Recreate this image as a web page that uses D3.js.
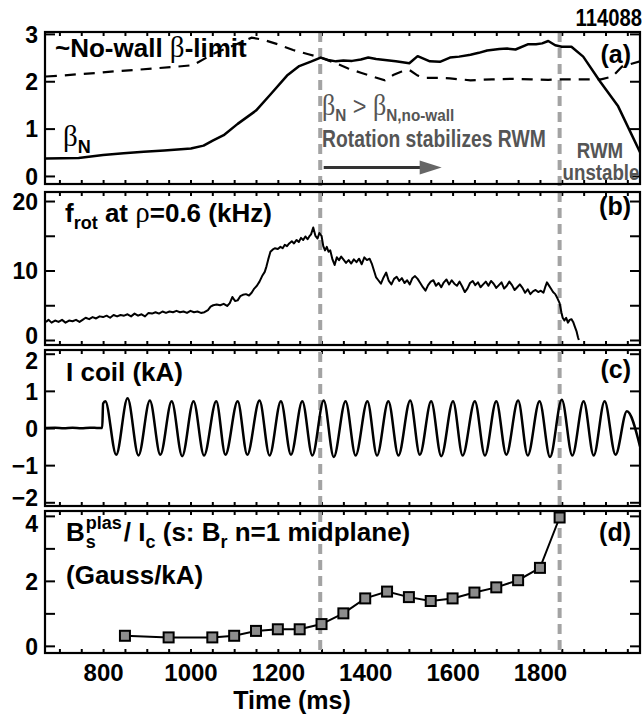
<!DOCTYPE html>
<html><head><meta charset="utf-8">
<script src="https://cdn.jsdelivr.net/npm/d3@7"></script>
<style>
html,body{margin:0;padding:0;background:#fff;}
svg{display:block;}
</style></head><body>
<svg id="chart" width="643" height="717"></svg>
<script>
// ---------------- DATA ----------------
const timeExtent = [667, 2029];
const xTickLabels = [800, 1000, 1200, 1400, 1600, 1800];
const shotNumber = "114088";
const rwmTimes = [1297, 1845];

const betaN = [[669,0.37],[744,0.38],[800,0.44],[847,0.48],[893,0.51],[940,0.54],[1001,0.58],[1030,0.64],[1052,0.75],[1076,0.86],[1108,1.10],[1150,1.38],[1183,1.72],[1221,2.12],[1249,2.32],[1277,2.42],[1298,2.50],[1315,2.45],[1333,2.42],[1350,2.44],[1370,2.43],[1390,2.46],[1407,2.50],[1425,2.47],[1445,2.45],[1470,2.42],[1501,2.38],[1520,2.53],[1548,2.42],[1571,2.41],[1594,2.50],[1615,2.52],[1641,2.56],[1660,2.60],[1679,2.65],[1707,2.68],[1725,2.69],[1744,2.67],[1772,2.78],[1791,2.78],[1805,2.80],[1819,2.85],[1835,2.76],[1850,2.73],[1872,2.73],[1899,2.52],[1938,1.99],[1979,1.47],[2029,0.50]];

const noWallLimit = [[669,2.10],[706,2.12],[744,2.15],[781,2.17],[828,2.21],[875,2.24],[915,2.27],[960,2.30],[1006,2.34],[1052,2.58],[1100,2.76],[1140,2.92],[1165,2.88],[1200,2.78],[1235,2.66],[1270,2.57],[1298,2.50],[1330,2.39],[1361,2.27],[1390,2.18],[1417,2.10],[1445,2.02],[1464,2.13],[1482,2.20],[1501,2.24],[1520,2.12],[1538,2.07],[1570,2.07],[1594,2.06],[1641,2.02],[1690,2.04],[1735,2.05],[1780,2.04],[1819,2.03],[1850,2.04],[1875,2.04],[1910,2.04],[1940,2.04],[1966,2.10],[1988,2.31],[2029,2.42]];

const fRot = [[669,2.6],[675,2.9],[682,2.5],[690,2.8],[698,2.6],[706,2.9],[714,2.5],[722,2.8],[730,2.7],[738,2.9],[746,2.6],[753,2.9],[760,3.2],[768,3.0],[776,3.3],[784,3.1],[792,3.4],[800,3.3],[808,3.5],[816,3.2],[824,3.6],[832,3.4],[840,3.6],[848,3.5],[856,3.7],[864,3.4],[872,3.8],[880,3.5],[888,3.7],[896,3.4],[904,3.9],[912,3.8],[920,4.0],[928,3.8],[936,4.1],[944,3.9],[952,4.1],[960,4.0],[968,4.2],[976,4.0],[984,4.1],[992,3.9],[1000,4.2],[1008,4.0],[1016,4.1],[1024,3.9],[1032,4.0],[1040,4.3],[1046,4.8],[1052,5.0],[1060,5.1],[1068,5.0],[1076,5.2],[1084,4.9],[1090,5.3],[1096,6.2],[1102,5.6],[1108,5.7],[1114,6.3],[1120,6.5],[1127,6.6],[1134,6.4],[1140,6.8],[1146,7.4],[1152,7.8],[1158,8.4],[1164,9.2],[1170,9.8],[1174,10.6],[1178,11.6],[1183,12.7],[1188,13.0],[1193,13.2],[1200,13.1],[1206,13.4],[1211,13.2],[1216,13.7],[1221,13.5],[1226,13.9],[1232,14.2],[1237,13.9],[1243,14.4],[1248,14.1],[1253,14.7],[1258,14.4],[1263,14.9],[1268,14.5],[1272,14.9],[1276,15.2],[1281,16.2],[1286,15.0],[1291,14.6],[1295,15.4],[1300,15.0],[1304,13.5],[1308,12.9],[1312,13.4],[1316,12.7],[1320,12.9],[1325,11.6],[1330,10.8],[1335,11.9],[1340,11.5],[1345,12.0],[1350,11.6],[1356,11.1],[1362,11.5],[1368,11.0],[1374,11.6],[1380,11.2],[1386,11.7],[1392,10.9],[1398,11.9],[1404,11.5],[1410,11.7],[1415,11.0],[1420,10.0],[1425,9.0],[1430,8.6],[1436,8.1],[1442,9.0],[1448,9.7],[1454,8.5],[1460,8.0],[1466,8.8],[1472,9.1],[1478,8.5],[1484,8.9],[1490,8.2],[1496,8.6],[1502,8.0],[1508,8.9],[1514,9.2],[1520,8.8],[1526,8.2],[1532,7.6],[1538,7.1],[1544,7.9],[1550,8.4],[1556,8.6],[1562,7.8],[1568,8.2],[1574,7.6],[1580,8.3],[1586,8.7],[1592,8.0],[1598,8.6],[1604,8.1],[1610,7.8],[1616,8.4],[1622,7.7],[1628,6.9],[1634,7.4],[1640,8.2],[1646,8.5],[1652,7.9],[1658,8.3],[1664,7.6],[1670,8.0],[1676,8.4],[1682,7.8],[1688,8.5],[1694,8.1],[1700,7.5],[1706,7.9],[1712,8.3],[1718,7.4],[1724,7.8],[1730,8.4],[1736,7.9],[1742,7.2],[1748,7.6],[1754,8.0],[1760,7.5],[1766,6.8],[1772,7.3],[1778,6.6],[1784,7.0],[1790,7.2],[1796,6.9],[1802,7.1],[1808,6.8],[1812,7.6],[1816,8.3],[1820,7.9],[1825,7.4],[1830,6.9],[1835,6.6],[1840,6.0],[1845,5.3],[1849,4.0],[1852,3.2],[1856,2.8],[1860,3.2],[1864,2.5],[1868,2.9],[1872,3.0],[1876,2.6],[1880,1.9],[1884,1.2],[1887,0.4],[1889,0.0]];

const iCoil = [[669,0],[690,0.01],[710,-0.01],[730,0.01],[750,-0.01],[770,0.01],[790,0],[798,0],[800,0.66],[805,0.72],[830,-0.72],[856,0.80],[881,-0.74],[907,0.74],[931,-0.72],[957,0.72],[981,-0.76],[1007,0.72],[1031,-0.74],[1059,0.72],[1080,-0.72],[1108,0.72],[1130,-0.72],[1158,0.74],[1181,-0.74],[1207,0.72],[1230,-0.72],[1256,0.72],[1279,-0.74],[1305,0.74],[1328,-0.78],[1355,0.72],[1378,-0.74],[1405,0.72],[1427,-0.74],[1453,0.72],[1476,-0.74],[1503,0.74],[1525,-0.72],[1551,0.72],[1574,-0.76],[1601,0.72],[1623,-0.74],[1651,0.72],[1674,-0.74],[1700,0.72],[1723,-0.72],[1750,0.74],[1772,-0.74],[1799,0.72],[1823,-0.78],[1850,0.76],[1874,-0.74],[1900,0.72],[1923,-0.74],[1948,0.72],[1973,-0.72],[1999,0.45],[2029,-0.50]];

const bPlasRatio = [[850,0.31],[950,0.26],[1050,0.26],[1100,0.31],[1150,0.46],[1200,0.51],[1250,0.51],[1300,0.67],[1350,1.00],[1400,1.46],[1450,1.67],[1500,1.50],[1550,1.38],[1600,1.46],[1650,1.64],[1700,1.80],[1750,2.02],[1800,2.40],[1845,3.95]];

const panelATicks = [0, 1, 2, 3];
const panelBTicks = [0, 5, 10, 15, 20], panelBLabels = [0, 10, 20];
const panelCTicks = [-2, -1, 0, 1, 2];
const panelDTicks = [0, 1, 2, 3, 4], panelDLabels = [0, 2, 4];
const arrowSpan = [1305, 1575], arrowLevel = 0.18;

// ---------------- LAYOUT ----------------
const SANS = '"Liberation Sans", Arial, Helvetica, sans-serif';
const SERIF = '"Liberation Serif", "Times New Roman", serif';
const GRAY_TXT = '#555';
const LBL = 26; // black in-panel label size
const L = 45, R = 640;
const frames = [
  {top:32, bottom:184, domain:[-0.17, 3.04], ticks:panelATicks, labels:panelATicks, nudge:{}},
  {top:192, bottom:345, domain:[-0.72, 21.3], ticks:panelBTicks, labels:panelBLabels, nudge:{0:-5}},
  {top:350, bottom:506, domain:[-2.1, 2.1], ticks:panelCTicks, labels:panelCTicks, nudge:{2:7, '-2':-5}},
  {top:511, bottom:653, domain:[-0.22, 4.15], ticks:panelDTicks, labels:panelDLabels, nudge:{4:7}}
];

const svg = d3.select('#chart');
const x = d3.scaleLinear().domain(timeExtent).range([L, R]);
frames.forEach(f => f.y = d3.scaleLinear().domain(f.domain).range([f.bottom, f.top]));

const defs = svg.append('defs');
frames.forEach((f,i) => {
  defs.append('clipPath').attr('id','clip'+i).append('rect')
    .attr('x', L).attr('y', f.top).attr('width', R-L).attr('height', f.bottom-f.top);
});

const xMinor = d3.range(700, 2001, 50);

function styleAxis(g, size){
  g.select('.domain').remove();
  g.selectAll('.tick line').attr('stroke','#000').attr('stroke-width',2);
  g.selectAll('.tick text').attr('font-family',SANS).attr('font-weight','bold').attr('font-size',size||24).attr('fill','#000');
}

// axes & ticks
frames.forEach((f,i) => {
  const gl = svg.append('g').attr('transform',`translate(${L},0)`)
    .call(d3.axisLeft(f.y).tickValues(f.ticks).tickSizeInner(-10).tickSizeOuter(0).tickPadding(7)
      .tickFormat(d => f.labels.includes(d) ? d3.format('d')(d) : ''));
  styleAxis(gl, 23);
  gl.selectAll('.tick text').attr('dy','0.36em')
    .attr('transform', d => `translate(0,${f.nudge[d] || 0})`);
  const gr = svg.append('g').attr('transform',`translate(${R},0)`)
    .call(d3.axisRight(f.y).tickValues(f.ticks).tickSizeInner(-10).tickSizeOuter(0).tickFormat(''));
  styleAxis(gr);
  const gt = svg.append('g').attr('transform',`translate(0,${f.top})`)
    .call(d3.axisTop(x).tickValues(xMinor).tickSizeInner(-4).tickSizeOuter(0).tickFormat(''));
  styleAxis(gt);
  const gb = svg.append('g').attr('transform',`translate(0,${f.bottom})`)
    .call(d3.axisBottom(x).tickValues(xMinor).tickSizeInner(-4).tickSizeOuter(0).tickFormat(''));
  styleAxis(gb);
});

// bottom labels
const gLab = svg.append('g').attr('transform',`translate(0,${frames[3].bottom})`)
  .call(d3.axisBottom(x).tickValues(xTickLabels).tickSize(0).tickPadding(11).tickFormat(d3.format('d')));
styleAxis(gLab, 24);

svg.append('text').attr('x', 292).attr('y', 709).attr('text-anchor','middle')
  .attr('font-family',SANS).attr('font-weight','bold').attr('font-size',25).text('Time (ms)');

// ---------------- TRACES ----------------
const lineFor = (f, curve) => d3.line().x(d => x(d[0])).y(d => f.y(d[1])).curve(curve || d3.curveLinear);

svg.append('g').selectAll('line').data(rwmTimes).join('line')
  .attr('x1', d => x(d)).attr('x2', d => x(d))
  .attr('y1', frames[0].top).attr('y2', frames[3].bottom)
  .attr('stroke','#a3a3a3').attr('stroke-width',4).attr('stroke-dasharray','10,6');

const pa = svg.append('g').attr('clip-path','url(#clip0)');
pa.append('path').datum(noWallLimit).attr('d', lineFor(frames[0]))
  .attr('fill','none').attr('stroke','#000').attr('stroke-width',2.2).attr('stroke-dasharray','11,8');
pa.append('path').datum(betaN).attr('d', lineFor(frames[0]))
  .attr('fill','none').attr('stroke','#000').attr('stroke-width',2.5).attr('stroke-linejoin','round');

const pb = svg.append('g').attr('clip-path','url(#clip1)');
pb.append('path').datum(fRot).attr('d', lineFor(frames[1]))
  .attr('fill','none').attr('stroke','#000').attr('stroke-width',2).attr('stroke-linejoin','round');

const pc = svg.append('g').attr('clip-path','url(#clip2)');
pc.append('path').datum(iCoil).attr('d', lineFor(frames[2], d3.curveMonotoneX))
  .attr('fill','none').attr('stroke','#000').attr('stroke-width',2.5);

const pd = svg.append('g').attr('clip-path','url(#clip3)');
pd.append('path').datum(bPlasRatio).attr('d', lineFor(frames[3]))
  .attr('fill','none').attr('stroke','#000').attr('stroke-width',2);
svg.append('g').selectAll('rect').data(bPlasRatio).join('rect')
  .attr('x', d => x(d[0]) - 5).attr('y', d => frames[3].y(d[1]) - 5)
  .attr('width',10).attr('height',10)
  .attr('fill','#8c8c8c').attr('stroke','#000').attr('stroke-width',2);

// arrow
const ay = frames[0].y(arrowLevel);
svg.append('line').attr('x1', x(arrowSpan[0])).attr('x2', x(arrowSpan[1]) - 18)
  .attr('y1', ay).attr('y2', ay).attr('stroke','#333').attr('stroke-width',3);
svg.append('path')
  .attr('d', `M${x(arrowSpan[1])},${ay} L${x(arrowSpan[1])-22},${ay-7} L${x(arrowSpan[1])-22},${ay+7} Z`)
  .attr('fill','#666');

// frames
frames.forEach(f => {
  svg.append('rect').attr('x', L).attr('y', f.top).attr('width', R-L).attr('height', f.bottom-f.top)
    .attr('fill','none').attr('stroke','#000').attr('stroke-width',2.2);
});

// ---------------- TEXT ----------------
function rich(parent, x0, y0, parts, attrs) {
  const t = parent.append('text').attr('x', x0).attr('y', y0);
  if (attrs) Object.entries(attrs).forEach(([k,v]) => t.attr(k, v));
  parts.forEach(p => {
    t.append('tspan').text(p.t)
      .attr('font-family', p.f || SANS)
      .attr('font-weight', p.w || 'bold')
      .attr('font-size', p.s || LBL)
      .attr('dy', p.dy || 0);
  });
  return t;
}
function condensed(x0, y0, sx) {
  return svg.append('g').attr('transform', `translate(${x0},${y0}) scale(${sx},1)`);
}

// shot number
condensed(642, 26, 0.88).append('text').attr('text-anchor','end')
  .attr('font-family',SANS).attr('font-weight','bold').attr('font-size',23).text(shotNumber);

// panel (a)
rich(svg, 55, 57, [
  {t:'~No-wall '},
  {t:'β', f:SERIF, w:'normal', s:29},
  {t:'-limit'}
]);
rich(svg, 63, 146, [
  {t:'β', f:SERIF, w:'normal', s:29},
  {t:'N', s:18, dy:7}
]);
rich(svg, 631, 63, [{t:'(a)', s:25}], {'text-anchor':'end'});

const gA1 = condensed(322, 115, 0.9);
rich(gA1, 0, 0, [
  {t:'β', f:SERIF, w:'normal', s:29},
  {t:'N', s:17, dy:6},
  {t:' > ', w:'normal', s:26, dy:-6},
  {t:'β', f:SERIF, w:'normal', s:29},
  {t:'N,no-wall', s:17, dy:6}
], {fill: GRAY_TXT});
condensed(322, 147, 0.84).append('text').attr('fill',GRAY_TXT)
  .attr('font-family',SANS).attr('font-weight','bold').attr('font-size',23).text('Rotation stabilizes RWM');
condensed(600, 158, 0.85).append('text').attr('fill',GRAY_TXT).attr('text-anchor','middle')
  .attr('font-family',SANS).attr('font-weight','bold').attr('font-size',22).text('RWM');
condensed(601, 180, 0.85).append('text').attr('fill',GRAY_TXT).attr('text-anchor','middle')
  .attr('font-family',SANS).attr('font-weight','bold').attr('font-size',22).text('unstable');

// panel (b)
rich(svg, 65, 222, [
  {t:'f'},
  {t:'rot', s:18, dy:7},
  {t:' at ', dy:-7},
  {t:'ρ', f:SERIF, w:'normal', s:29},
  {t:'=0.6 (kHz)'}
]);
rich(svg, 631, 215, [{t:'(b)', s:25}], {'text-anchor':'end'});

// panel (c)
rich(svg, 66, 381, [{t:'I coil (kA)'}]);
rich(svg, 631, 378, [{t:'(c)', s:25}], {'text-anchor':'end'});

// panel (d)
const bx = 66, by = 541;
const tB = rich(svg, bx, by, [{t:'B'}]);
const wB = tB.node().getComputedTextLength();
const tSup = rich(svg, bx + wB + 1, by - 12, [{t:'plas', s:18}]);
rich(svg, bx + wB + 1, by + 7, [{t:'s', s:18}]);
const wSup = tSup.node().getComputedTextLength();
rich(svg, bx + wB + wSup + 3, by, [
  {t:'/ I'},
  {t:'c', s:18, dy:7},
  {t:' (s: B', dy:-7},
  {t:'r', s:18, dy:7},
  {t:' n=1 midplane)', dy:-7}
]);
rich(svg, 66, 584, [{t:'(Gauss/kA)'}]);
rich(svg, 631, 541, [{t:'(d)', s:25}], {'text-anchor':'end'});
</script>
</body></html>
